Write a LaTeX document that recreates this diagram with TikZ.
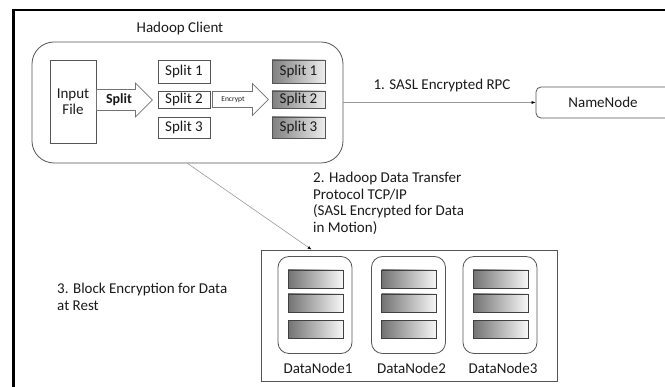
\documentclass[tikz,border=0pt]{standalone}
\usepackage{fontspec}
\setmainfont{Carlito}
\usetikzlibrary{calc,arrows.meta}
\definecolor{edge}{HTML}{555555}
\definecolor{txt}{HTML}{1A1A1A}
\begin{document}
\begin{tikzpicture}[x=1pt,y=-1pt,
  every node/.style={text=txt,font=\fontsize{15}{16.5}\selectfont},
  plainbox/.style={draw=edge,line width=0.8pt,fill=white,inner sep=0pt},
  darkbox/.style={draw=edge,line width=0.8pt,inner sep=0pt,left color=black!50,right color=black!7},
  bar/.style={draw=black!75,line width=0.9pt,inner sep=0pt,minimum width=55pt,minimum height=18pt,left color=black!55,right color=black!3},
  rbox/.style={draw=edge,line width=0.8pt,rounded corners=#1,inner sep=0pt},
  barrow/.style={draw=black!55,line width=0.7pt,fill=white,line join=miter},
  conn/.style={draw=black!40,line width=0.6pt,-{Latex[length=4pt,width=3pt,black]}},
  lbl/.style={align=left,inner sep=0pt,anchor=north west}
]
\useasboundingbox (0,0) rectangle (665,387);
% frame
\draw[line width=2.6pt,black] (13.5,400) -- (13.5,10) -- (680,10);
% client
\node[rbox=22pt,minimum width=311pt,minimum height=121pt] (client) at (187.5,102.5) {};
\node (clientlbl) at (180,29) {Hadoop Client};
\node[plainbox,minimum width=46pt,minimum height=83pt,align=center] (input) at (73,101.5) {Input\\File};
\node[plainbox,minimum width=52pt,minimum height=23pt] (s1) at (184,71.5) {Split 1};
\node[plainbox,minimum width=52pt,minimum height=17pt] (s2) at (184,99.5) {Split 2};
\node[plainbox,minimum width=52pt,minimum height=21pt] (s3) at (184,127.5) {Split 3};
\node[darkbox,minimum width=53pt,minimum height=23pt] (e1) at (298.5,71.5) {Split 1};
\node[darkbox,minimum width=53pt,minimum height=17pt] (e2) at (298.5,99.5) {Split 2};
\node[darkbox,minimum width=53pt,minimum height=21pt] (e3) at (298.5,127.5) {Split 3};
% block arrows
\draw[barrow] ($(input.east)+(0,-1.5)$) ++(0,-10.5) -- ++(39,0) -- ++(0,-6.5) -- ++(17,17) -- ++(-17,17) -- ++(0,-6.5) -- ++(-39,0) -- cycle;
\node[font=\bfseries\fontsize{14}{15}\selectfont] (splitlbl) at (119,100) {Split};
\draw[barrow] ($(s2.east)+(2,0)$) ++(0,-8) -- ++(40,0) -- ++(0,-8) -- ++(16,16) -- ++(-16,16) -- ++(0,-8) -- ++(-40,0) -- cycle;
\node[font=\fontsize{7.5}{8}\selectfont] (enclbl) at (233,99.5) {Encrypt};
% namenode
\node[rbox=5pt,minimum width=134pt,minimum height=31pt] (namenode) at (603,102.5) {NameNode};
\draw[conn] (client.east) -- (namenode.west);
\node (l1) at (442,86) {1. SASL Encrypted RPC};
% datanodes
\node[draw=edge,line width=0.8pt,minimum width=296pt,minimum height=131pt,inner sep=0pt] (dnbox) at (409,315.5) {};
\coordinate (dntop) at ($(dnbox.north west)+(51,0)$);
\draw[conn] (client.south) -- (dntop);
\node[lbl] (l2) at (313,172) {2. Hadoop Data Transfer\\Protocol TCP/IP\\(SASL Encrypted for Data\\in Motion)};
\node[lbl] (l3) at (57,283) {3. Block Encryption for Data\\at Rest};
\foreach \i/\x in {1/315,2/408.5,3/500}{
  \node[rbox=11pt,minimum width=74pt,minimum height=97pt] (dn\i) at (\x,305) {};
  \node[bar] (dn\i a) at (\x+0.5,279) {};
  \node[bar] (dn\i b) at (\x+0.5,303) {};
  \node[bar] (dn\i c) at (\x+0.5,329.5) {};
  \node (dn\i lbl) at (\x+3,368) {DataNode\i};
}
\end{tikzpicture}
\end{document}
